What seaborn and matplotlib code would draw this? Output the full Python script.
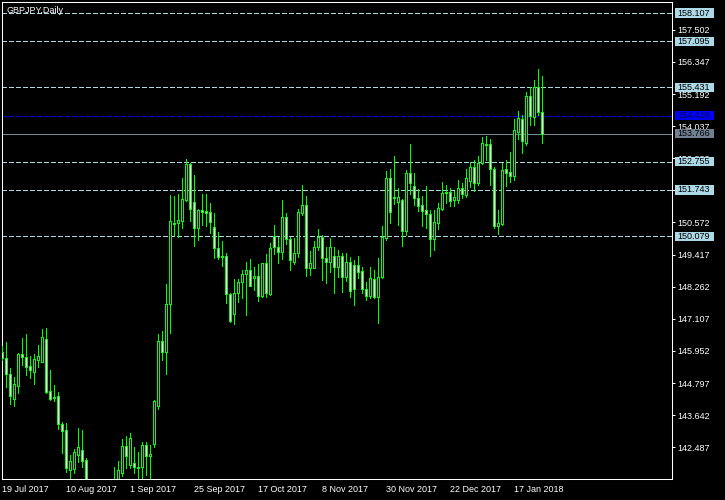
import numpy as np
import pandas as pd
import matplotlib
matplotlib.use("Agg")
import matplotlib.pyplot as plt
import matplotlib.transforms as mtransforms
from matplotlib.patches import Rectangle
import seaborn as sns

# ---------------- data ----------------
symbol_title = "GBPJPY,Daily"

opens = [145.91, 145.69, 145.11, 144.23, 144.70, 145.84, 145.72, 145.41, 145.21, 145.63,
         145.56, 146.38, 144.51, 144.30, 144.32, 143.32, 143.11, 141.67, 141.71, 142.21,
         142.39, 142.03, 141.13, 140.85, 140.45, 140.80, 140.40, 140.10, 140.60, 141.20,
         141.55, 142.52, 141.85, 141.91, 141.74, 141.77, 142.57, 142.17, 142.59, 143.97,
         146.30, 145.90, 147.63, 150.55, 150.54, 150.64, 151.38, 152.68, 151.30, 150.38,
         151.02, 150.99, 150.94, 150.40, 149.64, 149.37, 149.36, 147.99, 147.27, 148.03,
         148.42, 148.71, 148.85, 148.56, 148.64, 147.94, 149.10, 148.00, 150.10, 149.68,
         149.50, 150.76, 149.97, 149.14, 149.46, 150.90, 151.20, 148.92, 148.95, 149.70,
         150.04, 149.28, 149.14, 149.38, 148.98, 149.36, 148.62, 149.14, 149.04, 149.04,
         148.83, 148.17, 147.94, 148.53, 147.90, 148.62, 150.00, 152.16, 151.49, 151.30,
         151.38, 150.28, 152.34, 151.88, 151.44, 151.20, 151.02, 150.87, 149.97, 150.56,
         151.06, 151.66, 151.66, 151.37, 151.38, 151.80, 151.56, 152.08, 152.56, 152.00,
         152.72, 153.40, 153.38, 152.49, 150.46, 150.52, 152.49, 152.38, 152.26, 153.84,
         154.28, 153.44, 155.12, 154.38, 155.43, 154.56]

highs = [146.13, 146.27, 145.33, 145.03, 145.89, 146.42, 146.56, 145.77, 145.84, 146.17,
         146.74, 146.78, 145.27, 144.73, 144.47, 143.40, 143.35, 142.21, 142.42, 143.19,
         143.11, 142.10, 141.30, 141.10, 141.00, 141.20, 140.90, 140.90, 141.77, 142.00,
         142.78, 142.89, 143.00, 142.50, 142.33, 142.68, 142.68, 142.57, 144.19, 146.56,
         146.67, 148.36, 151.56, 151.52, 151.60, 152.18, 152.86, 152.71, 152.28, 151.06,
         151.60, 151.60, 151.26, 150.92, 150.23, 149.91, 149.46, 148.03, 148.53, 148.53,
         148.86, 149.16, 149.26, 148.98, 149.08, 149.12, 149.44, 149.83, 150.48, 150.06,
         151.38, 150.90, 150.06, 150.02, 151.06, 151.92, 151.52, 149.56, 149.91, 150.34,
         150.12, 149.68, 150.02, 149.70, 149.58, 149.46, 149.47, 149.34, 149.22, 149.37,
         148.98, 148.44, 148.96, 148.86, 149.28, 150.45, 152.42, 152.49, 152.96, 151.80,
         151.42, 152.46, 153.40, 152.34, 151.77, 151.52, 151.88, 151.02, 151.02, 151.26,
         152.03, 151.91, 151.82, 151.72, 152.10, 152.00, 152.49, 152.76, 152.82, 152.96,
         153.64, 153.68, 153.56, 152.58, 151.02, 152.70, 152.82, 153.10, 154.30, 154.58,
         154.44, 155.27, 155.46, 155.70, 156.08, 155.84]

lows = [145.63, 144.67, 144.03, 143.97, 144.45, 145.45, 145.09, 144.99, 144.76, 145.39,
        145.54, 144.43, 144.19, 144.16, 143.15, 142.27, 141.61, 141.38, 141.56, 141.97,
        141.78, 140.90, 140.55, 140.20, 140.00, 140.30, 139.30, 139.90, 140.30, 140.90,
        141.45, 141.74, 141.74, 141.56, 141.35, 141.38, 141.49, 141.35, 142.50, 143.87,
        145.63, 145.13, 146.61, 150.12, 150.06, 150.36, 151.35, 150.63, 149.73, 149.94,
        150.48, 150.45, 150.18, 149.28, 149.26, 149.01, 147.67, 147.00, 146.93, 147.70,
        147.85, 147.24, 148.29, 148.14, 147.75, 147.90, 147.89, 147.96, 149.44, 149.13,
        149.25, 149.79, 148.86, 149.08, 149.34, 150.84, 148.66, 148.68, 148.92, 149.58,
        148.50, 148.41, 148.80, 148.05, 148.62, 148.08, 148.47, 147.90, 147.60, 148.56,
        148.03, 147.78, 147.85, 147.85, 146.97, 148.56, 149.94, 150.56, 151.24, 150.48,
        149.73, 150.12, 151.60, 151.20, 151.00, 150.45, 150.36, 149.37, 149.58, 150.33,
        151.02, 151.26, 151.17, 151.17, 151.28, 151.44, 151.48, 151.86, 151.72, 151.92,
        152.68, 152.82, 151.92, 150.36, 150.16, 150.48, 151.88, 152.04, 152.10, 153.58,
        153.08, 153.36, 154.08, 154.08, 154.44, 153.42]

closes = [145.70, 145.11, 144.34, 144.75, 145.85, 145.72, 145.39, 145.27, 145.65, 145.77,
          146.45, 144.49, 144.22, 144.27, 143.31, 143.08, 141.74, 142.00, 142.32, 142.48,
          142.00, 141.13, 140.85, 140.45, 140.80, 140.40, 140.10, 140.60, 141.20, 141.67,
          142.53, 142.17, 142.81, 141.79, 141.79, 142.57, 142.17, 142.25, 144.15, 146.30,
          145.90, 147.63, 150.61, 150.53, 150.66, 151.41, 152.68, 151.05, 150.38, 151.02,
          150.96, 150.92, 150.58, 149.64, 149.34, 149.34, 147.99, 147.04, 148.03, 148.42,
          148.71, 148.85, 148.30, 148.66, 147.94, 149.10, 148.03, 149.64, 149.68, 149.50,
          150.76, 149.98, 149.21, 149.46, 150.94, 151.20, 148.92, 149.10, 149.70, 150.04,
          149.28, 149.14, 149.70, 148.98, 149.37, 148.62, 149.14, 148.12, 148.17, 148.80,
          148.17, 147.94, 148.56, 147.90, 148.62, 150.04, 152.16, 150.96, 151.46, 151.48,
          150.28, 152.34, 151.98, 151.44, 151.18, 151.00, 150.87, 149.97, 150.60, 151.08,
          151.62, 151.62, 151.36, 151.48, 151.80, 151.60, 152.16, 152.56, 152.00, 152.72,
          153.42, 153.37, 152.49, 150.46, 150.54, 152.46, 152.36, 152.26, 153.90, 154.34,
          153.51, 155.12, 154.40, 155.43, 154.56, 153.766]

date_labels = ["19 Jul 2017", "10 Aug 2017", "1 Sep 2017", "25 Sep 2017", "17 Oct 2017",
               "8 Nov 2017", "30 Nov 2017", "22 Dec 2017", "17 Jan 2018"]
bars_per_label = 16

price_ticks = [157.502, 156.347, 155.192, 154.037, 152.882, 151.727, 150.572,
               149.417, 148.262, 147.107, 145.952, 144.797, 143.642, 142.487]

level_lines = [158.107, 157.095, 155.431, 152.755, 151.743, 150.079]
blue_level = 154.419
last_price = 153.766

# ---------------- style ----------------
GREEN = "#00ff00"
LEVEL_C = "#add8e6"
GRAY_C = "#778899"
LW = 0.6

sns.set_theme(style="dark", rc={
    "axes.facecolor": "black",
    "figure.facecolor": "black",
    "axes.edgecolor": "white",
    "axes.grid": False,
    "xtick.color": "white",
    "ytick.color": "white",
})
plt.rcParams["font.family"] = ["Liberation Sans", "DejaVu Sans"]

W, H = 725, 500
fig = plt.figure(figsize=(W / 100, H / 100), dpi=100, facecolor="black")
ax_left, ax_right, ax_top, ax_bottom = 2, 672, 2, 479
ax = fig.add_axes([ax_left / W, (H - ax_bottom) / H,
                   (ax_right - ax_left) / W, (ax_bottom - ax_top) / H])
ax.set_facecolor("black")

df = pd.DataFrame({"open": opens, "high": highs, "low": lows, "close": closes})
df["bar"] = np.arange(len(df))
bull = df["close"] > df["open"]

# wicks
ax.vlines(df["bar"], df["low"], df["high"], color=GREEN, linewidth=LW,
          antialiased=False, zorder=3)
# bodies
ax.bar(df["bar"], (df["close"] - df["open"]).abs(),
       bottom=df[["open", "close"]].min(axis=1), width=0.5,
       color=np.where(bull, "black", "white"), edgecolor=GREEN,
       linewidth=LW, antialiased=False, zorder=4)

# horizontal level lines
for lv in level_lines:
    ax.axhline(lv, color=LEVEL_C, linewidth=LW, linestyle=(0, (5, 3.5)),
               antialiased=False, zorder=2)
ax.axhline(blue_level, color="#0000ff", linewidth=LW, linestyle=(0, (5, 3.5)),
           antialiased=False, zorder=2)
ax.axhline(last_price, color=GRAY_C, linewidth=LW, antialiased=False, zorder=2)

# limits: 4 px per bar, price scale ~27.8 px per yen
xmin = -0.075
ax.set_xlim(xmin, xmin + (ax_right - ax_left) / 4.0)
ax.set_ylim(141.345, 158.503)

for s in ax.spines.values():
    s.set_color("white")
    s.set_linewidth(0.75)

# y axis on the right
ax.yaxis.tick_right()
ax.set_yticks(price_ticks)
ax.set_yticklabels([f"{v:.3f}" for v in price_ticks])
ax.tick_params(axis="y", which="both", direction="out", length=2.5, width=0.75,
               colors="white", labelsize=6.5, pad=1.5, left=False, right=True)

# x axis dates
xt = np.arange(len(date_labels)) * bars_per_label
ax.set_xticks(xt)
ax.set_xticklabels(date_labels)
for lbl in ax.get_xticklabels():
    lbl.set_horizontalalignment("left")
ax.tick_params(axis="x", direction="out", length=3, width=0.75, colors="white",
               labelsize=6.5, pad=1.5)

# price boxes on right scale
blend = mtransforms.blended_transform_factory(ax.transAxes, ax.transData)
px_per_unit = (ax_bottom - ax_top) / (158.503 - 141.345)
half_h = 4.6 / px_per_unit
box_x0 = (675 - ax_left) / (ax_right - ax_left)
box_w = 39 / (ax_right - ax_left)
text_x = (677 - ax_left) / (ax_right - ax_left)

def price_box(val, fc, tc):
    r = Rectangle((box_x0, val - half_h), box_w, 2 * half_h, transform=blend,
                  facecolor=fc, edgecolor="none", clip_on=False, zorder=8)
    ax.add_patch(r)
    ax.text(text_x, val, f"{val:.3f}", transform=blend, color=tc, fontsize=6.5,
            ha="left", va="center", clip_on=False, zorder=9)

for lv in level_lines:
    price_box(lv, LEVEL_C, "black")
price_box(blue_level, "#0000ff", "#000040")
price_box(last_price, "#708090", "black")

ax.text(4.5 / (ax_right - ax_left), 1 - 8.3 / (ax_bottom - ax_top), symbol_title,
        transform=ax.transAxes, color="white", fontsize=6.5, ha="left", va="center",
        zorder=10)

fig.savefig("out.png", dpi=100, facecolor="black")
